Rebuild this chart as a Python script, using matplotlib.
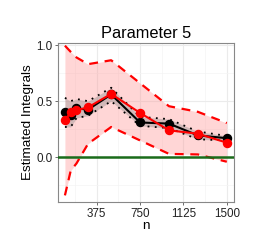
import numpy as np
import matplotlib.pyplot as plt

plt.rcParams['font.family'] = ['Liberation Sans', 'DejaVu Sans']

n = [100, 150, 200, 300, 500, 750, 1000, 1250, 1500]

black_est = [0.40, 0.38, 0.435, 0.425, 0.56, 0.31, 0.30, 0.195, 0.17]
black_hi = [0.53, 0.50, 0.52, 0.50, 0.62, 0.36, 0.34, 0.23, 0.19]
black_lo = [0.27, 0.27, 0.35, 0.37, 0.50, 0.28, 0.26, 0.16, 0.15]

red_est = [0.33, 0.40, 0.42, 0.445, 0.565, 0.395, 0.24, 0.21, 0.13]
red_hi = [0.995, 0.94, 0.89, 0.83, 0.865, 0.66, 0.455, 0.405, 0.305]
red_lo = [-0.34, -0.12, -0.055, 0.12, 0.27, 0.15, 0.03, 0.025, -0.04]

fig = plt.figure(figsize=(2.66, 2.52), dpi=100)
ax = fig.add_axes([0.218, 0.198, 0.662, 0.631])

ax.fill_between(n, red_lo, red_hi, color="#ff9999", alpha=0.4, lw=0, zorder=1)
ax.fill_between(n, black_lo, black_hi, color="gray", alpha=0.35, lw=0, zorder=2)

ax.plot(n, red_hi, color="red", lw=1.6, ls=(0, (4, 3)), zorder=3)
ax.plot(n, red_lo, color="red", lw=1.6, ls=(0, (4, 3)), zorder=3)
ax.plot(n, black_hi, color="black", lw=1.3, ls=(0, (1, 3)), zorder=3)
ax.plot(n, black_lo, color="black", lw=1.3, ls=(0, (1, 3)), zorder=3)

ax.axhline(0, color="#1a6b1a", lw=1.8, zorder=4)

ax.plot(n, black_est, color="black", lw=1.5, marker="o", ms=5.8, zorder=5)
ax.plot(n, red_est, color="red", lw=1.5, marker="o", ms=5.8, zorder=6)

ax.set_xlim(40, 1563)
ax.set_ylim(-0.40, 1.018)
ax.set_xticks([375, 750, 1125, 1500])
ax.set_xticks([187.5, 562.5, 937.5, 1312.5], minor=True)
ax.set_yticks([0.0, 0.5, 1.0])
ax.set_yticklabels(["0.0", "0.5", "1.0"])
ax.set_yticks([-0.25, 0.25, 0.75], minor=True)
ax.grid(True, which="major", color="#ebebeb", lw=0.8, zorder=0)
ax.grid(True, which="minor", color="#f4f4f4", lw=0.5, zorder=0)
ax.set_axisbelow(True)
ax.tick_params(which="minor", length=0)
ax.tick_params(which="major", length=2.5, width=0.6, color="#555555",
               labelsize=8.4, labelcolor="#222222", pad=1.5)
for s in ax.spines.values():
    s.set_color("#888888")
    s.set_linewidth(0.8)

ax.set_title("Parameter 5", fontsize=11.8, pad=4)
ax.set_xlabel("n", fontsize=9.7, labelpad=0)
ax.set_ylabel("Estimated Integrals", fontsize=9.7, labelpad=2)

fig.savefig("out.png", dpi=100)
